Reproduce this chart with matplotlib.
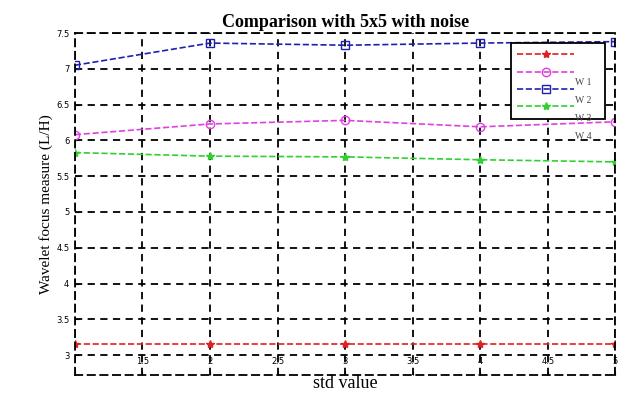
import matplotlib.pyplot as plt
import numpy as np

# --- data ---
std_vals = [1, 2, 3, 4, 5]
w0 = [3.15, 3.15, 3.15, 3.15, 3.15]
w1 = [6.08, 6.23, 6.28, 6.19, 6.26]
w2 = [7.05, 7.36, 7.33, 7.36, 7.38]
w3 = [5.83, 5.78, 5.77, 5.73, 5.70]
legend_names = ['W 1', 'W 2', 'W 3', 'W 4']

xticks = np.arange(1, 5.01, 0.5)
xtick_labels = ['', '1.5', '2', '2.5', '3', '3.5', '4', '4.5', '5']
yticks = np.arange(3, 7.51, 0.5)
ytick_labels = ['3', '3.5', '4', '4.5', '5', '5.5', '6', '6.5', '7', '7.5']

serif = 'Liberation Serif'
dash = (0, (4, 3))

fig = plt.figure(figsize=(6.35, 4.03), dpi=100)
ax = fig.add_axes([0.118, 0.069, 0.851, 0.849])

ax.plot(std_vals, w0, '--*', color='#e02020', ms=6, lw=1.2)
ax.plot(std_vals, w1, '--o', color='#e040e0', mfc='none', ms=6, lw=1.2)
ax.plot(std_vals, w2, '--s', color='#2020b0', mfc='none', ms=6, lw=1.2)
ax.plot(std_vals, w3, '--*', color='#30d030', ms=6, lw=1.2)

ax.set_xlim(1, 5)
ax.set_ylim(2.72, 7.5)
ax.set_xticks(xticks)
ax.set_xticklabels(xtick_labels, fontsize=6)
ax.set_yticks(yticks)
ax.set_yticklabels(ytick_labels, fontsize=6)
ax.tick_params(axis='y', direction='in', length=3, pad=4)
ax.tick_params(axis='x', direction='in', length=3, pad=-13)
ax.grid(True, color='black', linestyle=dash, linewidth=1.3)
for s in ax.spines.values():
    s.set_linestyle(dash)
    s.set_linewidth(1.3)

ax.set_title('Comparison with 5x5 with noise', fontsize=13, family=serif,
             fontweight='bold', pad=4)
ax.set_xlabel('std value', fontsize=13, family=serif, labelpad=0)
ax.set_ylabel('Wavelet focus measure (L/H)', fontsize=11, family=serif, labelpad=2)

# legend box with shifted labels as in the reference
leg = ax.legend(['', '', '', ''], loc='upper right', bbox_to_anchor=(0.981, 0.971),
                frameon=True, fancybox=False, edgecolor='black', fontsize=9,
                handlelength=4.6, handletextpad=2.0, borderpad=0.45,
                labelspacing=0.35, framealpha=1, borderaxespad=0)
leg.get_frame().set_linewidth(1.3)
for i, name in enumerate(legend_names):
    ax.text(0.926, 0.854 - i * 0.052, name, transform=ax.transAxes,
            fontsize=7, family=serif, color='#444444', va='center', zorder=10)

fig.savefig('out.png', dpi=100)
